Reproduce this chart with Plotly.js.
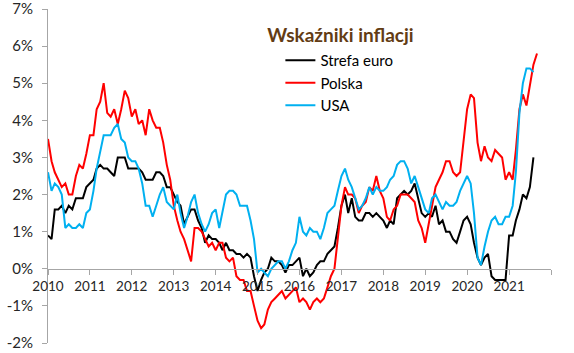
<!DOCTYPE html>
<html><head><meta charset="utf-8">
<script src="https://cdn.plot.ly/plotly-3.0.1.min.js"></script>
<style>html,body{margin:0;padding:0;background:#fff}#c{width:574px;height:353px}</style>
</head><body><div id="c"></div>
<script>
const startYear = 2010;
const euro = [
 0.9,0.8,1.6,1.6,1.7,1.5,1.7,1.6,1.9,1.9,1.9,2.2,
 2.3,2.4,2.7,2.8,2.7,2.7,2.6,2.5,3.0,3.0,3.0,2.7,
 2.7,2.7,2.7,2.6,2.4,2.4,2.4,2.6,2.6,2.5,2.2,2.2,
 2.0,1.8,1.7,1.2,1.4,1.6,1.6,1.3,1.1,0.7,0.9,0.8,
 0.8,0.7,0.5,0.7,0.5,0.5,0.4,0.4,0.3,0.4,0.3,-0.2,
 -0.6,-0.3,-0.1,0.0,0.3,0.2,0.2,0.1,-0.1,0.1,0.1,0.2,
 0.3,-0.2,0.0,-0.2,-0.1,0.1,0.2,0.2,0.4,0.5,0.6,1.1,
 1.7,2.0,1.5,1.9,1.4,1.3,1.3,1.5,1.5,1.4,1.5,1.4,
 1.3,1.1,1.3,1.2,1.9,2.0,2.1,2.0,2.1,2.3,1.9,1.5,
 1.4,1.5,1.4,1.7,1.2,1.3,1.0,1.0,0.8,0.7,1.0,1.3,
 1.4,1.2,0.7,0.3,0.1,0.3,0.4,-0.2,-0.3,-0.3,-0.3,-0.3,
 0.9,0.9,1.3,1.6,2.0,1.9,2.2,3.0
];
const polska = [
 3.5,2.9,2.6,2.4,2.2,2.3,2.0,2.0,2.5,2.8,2.7,3.1,
 3.6,3.6,4.3,4.5,5.0,4.2,4.1,4.3,3.9,4.3,4.8,4.6,
 4.1,4.3,3.9,4.0,3.6,4.3,4.0,3.8,3.8,3.4,2.8,2.4,
 1.7,1.3,1.0,0.8,0.5,0.2,1.1,1.1,1.0,0.8,0.6,0.7,
 0.5,0.7,0.7,0.3,0.2,0.3,-0.2,-0.3,-0.3,-0.6,-0.6,-1.0,
 -1.4,-1.6,-1.5,-1.1,-0.9,-0.8,-0.7,-0.6,-0.8,-0.7,-0.6,-0.5,
 -0.9,-0.8,-0.9,-1.1,-0.9,-0.8,-0.9,-0.8,-0.5,-0.2,0.0,0.8,
 1.7,2.2,2.0,2.0,1.9,1.5,1.7,1.8,2.2,2.1,2.5,2.1,
 1.9,1.4,1.3,1.6,1.7,2.0,2.0,2.0,1.9,1.8,1.3,1.1,
 0.7,1.2,1.7,2.2,2.4,2.6,2.9,2.9,2.6,2.5,2.6,3.4,
 4.3,4.7,4.6,3.4,2.9,3.3,3.0,2.9,3.2,3.1,3.0,2.4,
 2.6,2.4,3.2,4.3,4.7,4.4,5.0,5.5,5.8
];
const usa = [
 2.6,2.1,2.3,2.2,2.0,1.1,1.2,1.1,1.1,1.2,1.1,1.5,
 1.6,2.1,2.7,3.2,3.6,3.6,3.6,3.8,3.9,3.5,3.4,3.0,
 2.9,2.9,2.7,2.3,1.7,1.7,1.4,1.7,2.0,2.2,1.8,1.7,
 1.6,2.0,1.5,1.1,1.4,1.8,2.0,1.5,1.2,1.0,1.2,1.5,
 1.6,1.1,1.5,2.0,2.1,2.1,2.0,1.7,1.7,1.7,1.3,0.8,
 -0.1,0.0,-0.1,-0.2,0.0,0.1,0.2,0.2,0.0,0.2,0.5,0.7,
 1.4,1.0,0.9,1.1,1.0,1.0,0.8,1.1,1.5,1.6,1.7,2.1,
 2.5,2.7,2.4,2.2,1.9,1.6,1.7,1.9,2.2,2.0,2.2,2.1,
 2.1,2.2,2.4,2.5,2.8,2.9,2.9,2.7,2.3,2.5,2.2,1.9,
 1.6,1.5,1.9,2.0,1.8,1.6,1.8,1.7,1.7,1.8,2.1,2.3,
 2.5,2.3,1.5,0.3,0.1,0.6,1.0,1.3,1.4,1.2,1.2,1.4,
 1.4,1.7,2.6,4.2,5.0,5.4,5.4,5.3
];
const seriesNames = ['Strefa euro','Polska','USA'];
const yearLabels = ['2010','2011','2012','2013','2014','2015','2016','2017','2018','2019','2020','2021'];
const yTickVals = [-2,-1,0,1,2,3,4,5,6,7];

function dates(n){
  const out=[];
  for(let i=0;i<n;i++){
    const y=startYear+Math.floor(i/12), m=(i%12)+1;
    out.push(y+'-'+String(m).padStart(2,'0')+'-01');
  }
  return out;
}
const F = 'Lato, "Noto Sans", sans-serif';
const traces = [
  {x:dates(euro.length), y:euro, name:seriesNames[0], type:'scatter', mode:'lines', line:{color:'#000000', width:2}},
  {x:dates(polska.length), y:polska, name:seriesNames[1], type:'scatter', mode:'lines', line:{color:'#ff0000', width:2}},
  {x:dates(usa.length), y:usa, name:seriesNames[2], type:'scatter', mode:'lines', line:{color:'#00b0f0', width:2}}
];
const tickvals = yearLabels.map(y=>y+'-01-01').concat(['2022-01-01']);
const ticktext = yearLabels.concat(['']);
const layout = {
  width:574, height:353,
  margin:{l:48, r:23, t:9, b:10},
  paper_bgcolor:'#fff', plot_bgcolor:'#fff',
  font:{family:F, color:'#262626'},
  showlegend:true,
  title:{text:'Wskaźniki inflacji', font:{family:F, size:19, color:'#633c14', weight:'bold'},
         xref:'paper', x:0.436, xanchor:'left', yref:'container', y:0.9, yanchor:'middle'},
  legend:{x:0.462, y:0.895, xanchor:'left', yanchor:'top', bgcolor:'rgba(0,0,0,0)',
          font:{family:F, size:15, color:'#000'}, tracegroupgap:0, itemwidth:30},
  xaxis:{type:'date', range:['2010-01-01','2022-01-01'], tickmode:'array', tickvals:tickvals, ticktext:ticktext,
         anchor:'free', position:2/9, showline:true, linecolor:'#a6a6a6', linewidth:1,
         ticks:'outside', ticklen:5, tickcolor:'#a6a6a6', showgrid:false, zeroline:false,
         tickfont:{family:F, size:13.5, color:'#262626'}},
  yaxis:{range:[-2,7], tickmode:'array', tickvals:yTickVals, ticktext:yTickVals.map(v=>v+'%'),
         showline:true, linecolor:'#a6a6a6', linewidth:1, ticklabeloverflow:'allow',
         ticks:'outside', ticklen:5, tickcolor:'#a6a6a6', showgrid:false, zeroline:false,
         domain:[0,1], tickfont:{family:F, size:15, color:'#262626'}, ticklabelstandoff:6}
};
Plotly.newPlot('c', traces, layout, {displayModeBar:false, staticPlot:true});
</script>
</body></html>
